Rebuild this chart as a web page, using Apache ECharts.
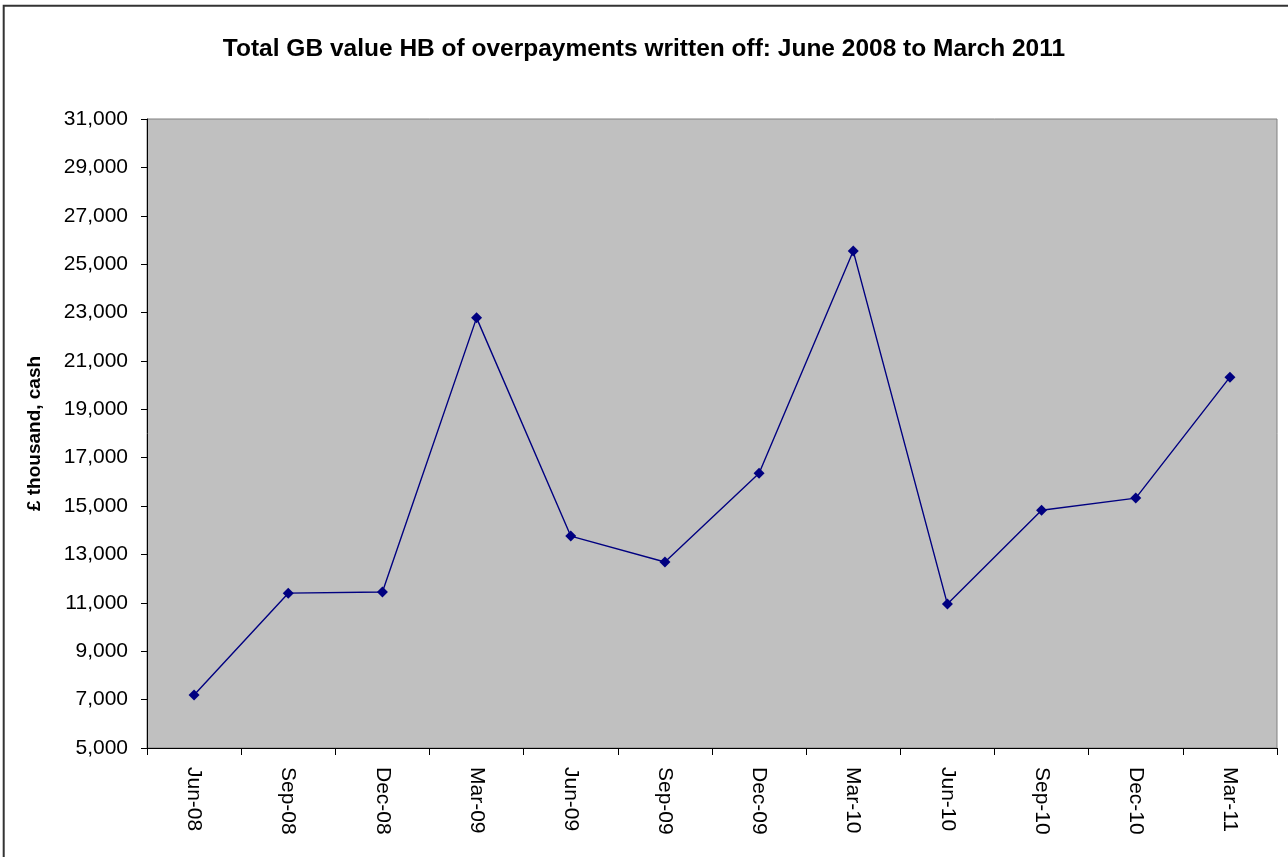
<!DOCTYPE html>
<html><head><meta charset="utf-8">
<script src="https://cdn.jsdelivr.net/npm/echarts@6/dist/echarts.min.js"></script>
<style>html,body{margin:0;padding:0;background:#fff;overflow:hidden}#c{width:1288px;height:857px;}</style>
</head><body><div id="c"></div>
<script>
const categories = ['Jun-08','Sep-08','Dec-08','Mar-09','Jun-09','Sep-09','Dec-09','Mar-10','Jun-10','Sep-10','Dec-10','Mar-11'];
const values = [7190, 11400, 11450, 22780, 13760, 12690, 16360, 25540, 10950, 14830, 15330, 20330];
const yMin = 5000, yMax = 31000, yStep = 2000;

const FONT = 'Liberation Sans, Arial, sans-serif';
const chart = echarts.init(document.getElementById('c'));
chart.setOption({
  animation: false,
  backgroundColor: '#fff',
  textStyle: { fontFamily: FONT },
  title: {
    text: 'Total GB value HB of overpayments written off: June 2008 to March 2011',
    left: 'center', top: 32,
    textStyle: { fontSize: 24.5, fontWeight: 'bold', color: '#000', fontFamily: FONT }
  },
  graphic: [{
    type: 'rect', silent: true, z: 100,
    shape: { x: 3.7, y: 5.8, width: 1400, height: 1000 },
    style: { fill: 'none', stroke: '#333', lineWidth: 2 }
  }],
  grid: {
    left: 147, top: 119, right: 11, bottom: 109,
    show: true, backgroundColor: '#C0C0C0', borderColor: '#808080', borderWidth: 1
  },
  xAxis: {
    type: 'category', data: categories, boundaryGap: true,
    axisLine: { lineStyle: { color: '#000', width: 1 } },
    axisTick: { show: true, length: 7, lineStyle: { color: '#000' } },
    axisLabel: { rotate: -90, color: '#000', fontSize: 21, margin: 19, fontFamily: FONT }
  },
  yAxis: {
    type: 'value', min: yMin, max: yMax, interval: yStep,
    name: '£ thousand, cash', nameLocation: 'middle', nameGap: 103,
    nameTextStyle: { fontSize: 19, fontWeight: 'bold', color: '#000', fontFamily: FONT },
    axisLine: { show: true, lineStyle: { color: '#000' } },
    axisTick: { show: true, length: 6, lineStyle: { color: '#000' } },
    splitLine: { show: false },
    axisLabel: {
      color: '#000', fontSize: 21, margin: 19, fontFamily: FONT,
      formatter: v => v.toLocaleString('en-US')
    }
  },
  series: [{
    type: 'line', data: values,
    symbol: 'diamond', symbolSize: 11,
    lineStyle: { color: '#000080', width: 1.4 },
    itemStyle: { color: '#000080' }
  }]
});
</script></body></html>
